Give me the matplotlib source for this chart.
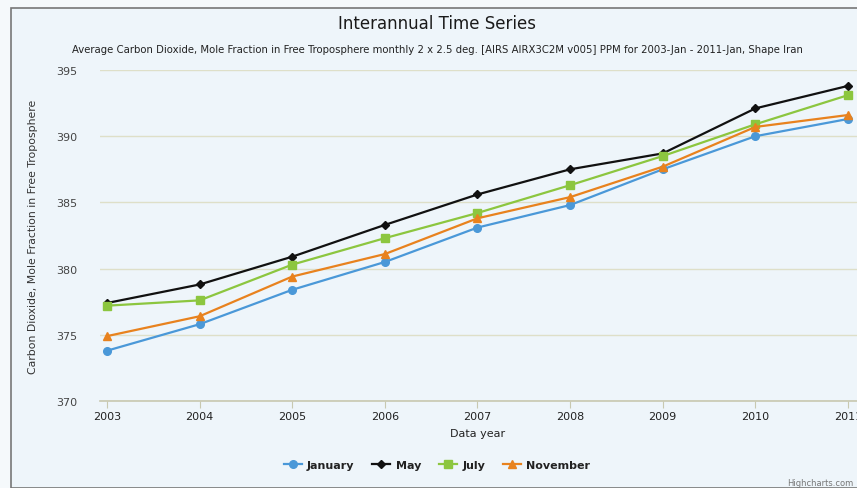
import matplotlib
matplotlib.use('Agg')
import matplotlib.pyplot as plt
from matplotlib.patches import Rectangle

years = [2003, 2004, 2005, 2006, 2007, 2008, 2009, 2010, 2011]
january = [373.8, 375.8, 378.4, 380.5, 383.1, 384.8, 387.5, 390.0, 391.3]
may = [377.4, 378.8, 380.9, 383.3, 385.6, 387.5, 388.7, 392.1, 393.8]
july = [377.2, 377.6, 380.3, 382.3, 384.2, 386.3, 388.5, 390.9, 393.1]
november = [374.9, 376.4, 379.4, 381.1, 383.8, 385.4, 387.7, 390.7, 391.6]

W, H = 857, 489
fig = plt.figure(figsize=(W / 100, H / 100), dpi=100)
fig.patch.set_facecolor('#F5F9FB')

# chart frame
fig.patches.append(Rectangle((11 / W, 0), 1, 1 - 9 / H, transform=fig.transFigure,
                             facecolor='#EEF5FA', edgecolor='#777777', lw=1.2, zorder=-5))

ax = fig.add_axes([100 / W, 87 / H, (W - 100) / W, (402 - 71) / H])
ax.set_facecolor('none')
ax.set_zorder(2)

series = [
    ('January', january, '#4A98D8', 'o', 5.5),
    ('May', may, '#111111', 'D', 3.8),
    ('July', july, '#8CC63F', 's', 5.5),
    ('November', november, '#E8821E', '^', 5.5),
]
for name, vals, col, mk, ms in series:
    ax.plot(years, vals, color=col, lw=1.6, marker=mk, markersize=ms, label=name,
            clip_on=False, zorder=3)

ax.set_ylim(370, 395)
ax.set_xlim(2003 - 7 / 92.6, 2011 + 9 / 92.6)
ax.set_yticks([370, 375, 380, 385, 390, 395])
ax.set_xticks(years)
ax.grid(axis='y', color='#DEDFC8', lw=1)
ax.set_axisbelow(True)
for s in ['top', 'right', 'left']:
    ax.spines[s].set_visible(False)
ax.spines['bottom'].set_color('#C8C8B0')
ax.spines['bottom'].set_linewidth(1.2)
ax.tick_params(axis='y', length=0, pad=8, labelsize=8, labelcolor='#444444')
ax.tick_params(axis='x', length=5, color='#C8C8B0', labelsize=8, labelcolor='#222222', pad=2)
for lbl in ax.get_yticklabels():
    lbl.set_horizontalalignment('left')
    lbl.set_x(-0.043)

fig.text(437 / W, 1 - 24 / H, 'Interannual Time Series', ha='center', va='center',
         fontsize=12, color='#1a1a1a')
fig.text(437 / W, 1 - 50 / H,
         'Average Carbon Dioxide, Mole Fraction in Free Troposphere monthly 2 x 2.5 deg. '
         '[AIRS AIRX3C2M v005] PPM for 2003-Jan - 2011-Jan, Shape Iran',
         ha='center', va='center', fontsize=7.3, color='#222222')
fig.text(33 / W, 1 - 237 / H, 'Carbon Dioxide, Mole Fraction in Free Troposphere',
         rotation=90, ha='center', va='center', fontsize=7.8, color='#333333')
fig.text(478 / W, 1 - 434 / H, 'Data year', ha='center', va='center',
         fontsize=8, color='#222222')

leg = fig.legend(loc='center', bbox_to_anchor=(437 / W, 1 - 466 / H), ncol=4,
                 frameon=False, fontsize=8, handlelength=1.6, columnspacing=1.6,
                 handletextpad=0.5)
for t in leg.get_texts():
    t.set_fontweight('bold')
    t.set_color('#222222')

fig.text(853 / W, 1 - 484 / H, 'Highcharts.com', ha='right', va='center',
         fontsize=6, color='#777777')

fig.savefig('out.png', dpi=100, facecolor=fig.get_facecolor())
